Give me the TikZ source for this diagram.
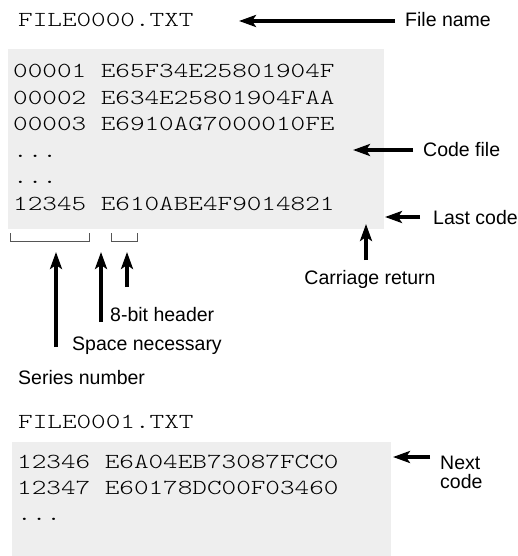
\documentclass[tikz,border=0pt]{standalone}
\usepackage{fontspec}
\setmainfont{Liberation Sans}
\newfontfamily\codefont{lmmonolt10-regular.otf}[FakeStretch=1.30]
\usetikzlibrary{arrows.meta}
\definecolor{boxgray}{HTML}{EEEEEE}
\definecolor{brk}{HTML}{555555}
\begin{document}
\begin{tikzpicture}[x=1pt,y=-1pt,
  codebox/.style={fill=boxgray,draw=none},
  codetext/.style={anchor=base west,inner sep=0pt,font=\codefont\fontsize{21.4}{26.4}\selectfont,align=left},
  lbl/.style={anchor=base west,inner sep=0pt,font=\fontsize{19.5}{19.5}\selectfont,align=left},
  arr/.style={line width=3.4pt,-{Stealth[length=17pt,width=12pt,inset=4pt]}},
  brace/.style={draw=brk,line width=1pt}]
\useasboundingbox (0,0) rectangle (517,556);
% boxes
\fill[codebox] (8,49) rectangle (384,229);
\fill[codebox] (12,442) rectangle (391,556);
% file names
\node[codetext] (f0) at (18,27) {FILE0000.TXT};
\node[codetext] (f1) at (18,428) {FILE0001.TXT};
% code text
\node[codetext] (c1) at (13,78) {00001 E65F34E25801904F};
\node[codetext] (c2) at (13,104.4) {00002 E634E25801904FAA};
\node[codetext] (c3) at (13,130.8) {00003 E6910AG7000010FE};
\node[codetext] (c4) at (13,157.2) {...};
\node[codetext] (c5) at (13,183.6) {...};
\node[codetext] (c6) at (13,210) {12345 E610ABE4F9014821};
\node[codetext] (d1) at (17,468) {12346 E6A04EB73087FCC0};
\node[codetext] (d2) at (17,494.4) {12347 E60178DC00F03460};
\node[codetext] (d3) at (17,520.8) {...};
% labels
\node[lbl] (lfile) at (405,27) {File name};
\node[lbl] (lcode) at (423,157) {Code file};
\node[lbl] (llast) at (433,224) {Last code};
\node[lbl,anchor=base] (lcr) at (370,284) {Carriage return};
\node[lbl] (lhdr) at (110,321) {8-bit header};
\node[lbl] (lspace) at (72,350) {Space necessary};
\node[lbl] (lser) at (18,384) {Series number};
\node[lbl] (lnext) at (440,488.5) {Next\\code};
% brackets
\draw[brace] (10,233) |- (89,241) -- (89,233);
\draw[brace] (111,233) |- (137,241) -- (137,233);
% arrow endpoints
\coordinate (a1s) at (395,21);  \coordinate (a1e) at (239,21);
\coordinate (a2s) at (413,150); \coordinate (a2e) at (353,150);
\coordinate (a3s) at (420,217); \coordinate (a3e) at (385,217);
\coordinate (a4s) at (366,260); \coordinate (a4e) at (366,224);
\coordinate (a5s) at (56,347);  \coordinate (a5e) at (56,252);
\coordinate (a6s) at (101,322); \coordinate (a6e) at (101,252);
\coordinate (a7s) at (127,287); \coordinate (a7e) at (127,252);
\coordinate (a8s) at (430,457); \coordinate (a8e) at (393,457);
\draw[arr] (a1s) -- (a1e);
\draw[arr] (a2s) -- (a2e);
\draw[arr] (a3s) -- (a3e);
\draw[arr] (a4s) -- (a4e);
\draw[arr] (a5s) -- (a5e);
\draw[arr] (a6s) -- (a6e);
\draw[arr] (a7s) -- (a7e);
\draw[arr] (a8s) -- (a8e);
\end{tikzpicture}
\end{document}
